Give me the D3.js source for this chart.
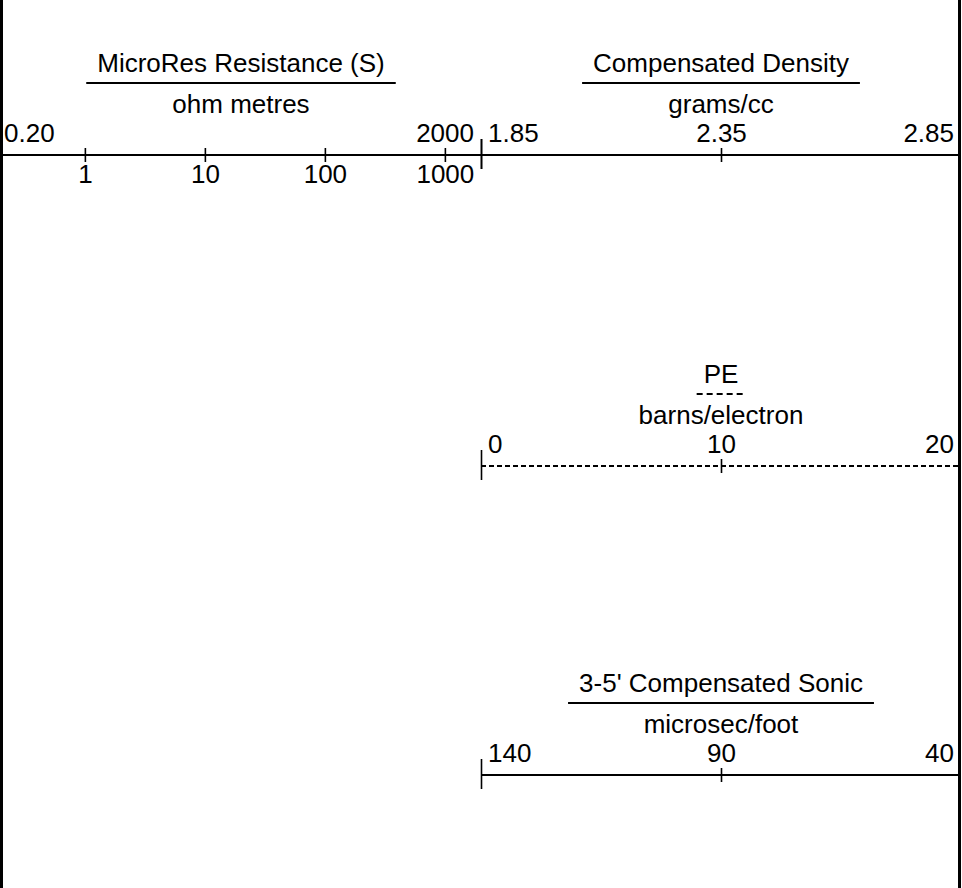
<!DOCTYPE html>
<html>
<head>
<meta charset="utf-8">
<script src="https://cdn.jsdelivr.net/npm/d3@7"></script>
<style>
  body { margin: 0; background: #fff; }
  text { font-family: "Liberation Sans", Arial, sans-serif; font-size: 26px; fill: #000; }
</style>
</head>
<body>
<svg id="chart" width="962" height="888"></svg>
<script>
// header data --
const trackNames = ["MicroRes Resistance (S)", "Compensated Density", "PE", "3-5' Compensated Sonic"];
const trackUnits = ["ohm metres", "grams/cc", "barns/electron", "microsec/foot"];
const trackScales = ["log", "linear", "linear", "linear"];
const trackDomains = [[0.2, 2000], [1.85, 2.85], [0, 20], [140, 40]];
const endLabels = [["0.20", "2000"], ["1.85", "2.85"], ["0", "20"], ["140", "40"]];
const midTicks = [[1, 10, 100, 1000], [2.35], [10], [90]];
const midLabels = [["1", "10", "100", "1000"], ["2.35"], ["10"], ["90"]];
const dashedTracks = [false, false, true, false];

// layout --
const W = 962, H = 888;
const columns = [[1, 481], [481, 961]];
const trackColumn = [0, 1, 1, 1];
const lineY = [155, 155, 466, 775];

const svg = d3.select("#chart");

// track borders
svg.append("line").attr("x1", 1.5).attr("x2", 1.5).attr("y1", 0).attr("y2", H)
  .attr("stroke", "#000").attr("stroke-width", 3);
svg.append("line").attr("x1", 959.5).attr("x2", 959.5).attr("y1", 0).attr("y2", H)
  .attr("stroke", "#000").attr("stroke-width", 3);

trackNames.forEach((name, i) => {
  const range = columns[trackColumn[i]];
  const scale = trackScales[i] === "log"
    ? d3.scaleLog().domain(trackDomains[i]).range(range)
    : d3.scaleLinear().domain(trackDomains[i]).range(range);
  const y = lineY[i];
  const cx = (range[0] + range[1]) / 2;
  const dash = dashedTracks[i] ? "5,3" : null;
  const g = svg.append("g");

  // title + underline
  const title = g.append("text").attr("x", cx).attr("y", y - 83)
    .attr("text-anchor", "middle").text(name);
  const tw = title.node().getComputedTextLength();
  const pad = dashedTracks[i] ? 7 : 11;
  g.append("line")
    .attr("x1", cx - tw / 2 - pad).attr("x2", cx + tw / 2 + pad)
    .attr("y1", y - 72).attr("y2", y - 72)
    .attr("stroke", "#000").attr("stroke-width", 2)
    .attr("stroke-dasharray", dash ? "6,4" : null);

  g.append("text").attr("x", cx).attr("y", y - 42)
    .attr("text-anchor", "middle").text(trackUnits[i]);

  // scale end values
  g.append("text").attr("x", scale(trackDomains[i][0]) + (i === 0 ? 3 : 7)).attr("y", y - 13)
    .attr("text-anchor", "start").text(endLabels[i][0]);
  g.append("text").attr("x", scale(trackDomains[i][1]) - 7).attr("y", y - 13)
    .attr("text-anchor", "end").text(endLabels[i][1]);

  // main scale line
  g.append("line")
    .attr("x1", range[0]).attr("x2", range[1])
    .attr("y1", y).attr("y2", y)
    .attr("stroke", "#000").attr("stroke-width", 2.2)
    .attr("stroke-dasharray", dash);

  // start-of-track tick
  g.append("line")
    .attr("x1", 481.5).attr("x2", 481.5)
    .attr("y1", y - 16).attr("y2", y + 14)
    .attr("stroke", "#000").attr("stroke-width", 1.6);

  // inner ticks
  const axis = d3.axisBottom(scale).tickValues(midTicks[i]).tickSize(14)
    .tickFormat((d, k) => midLabels[i][k]);
  const ag = g.append("g").attr("transform", `translate(0,${y - 7})`).call(axis);
  ag.select(".domain").remove();
  ag.selectAll(".tick line").attr("stroke", "#000").attr("stroke-width", 1.6);
  ag.selectAll(".tick text")
    .attr("font-size", null).attr("font-family", null)
    .attr("fill", "#000")
    .attr("dy", null)
    .attr("y", trackScales[i] === "log" ? 35 : -6);
});
</script>
</body>
</html>
